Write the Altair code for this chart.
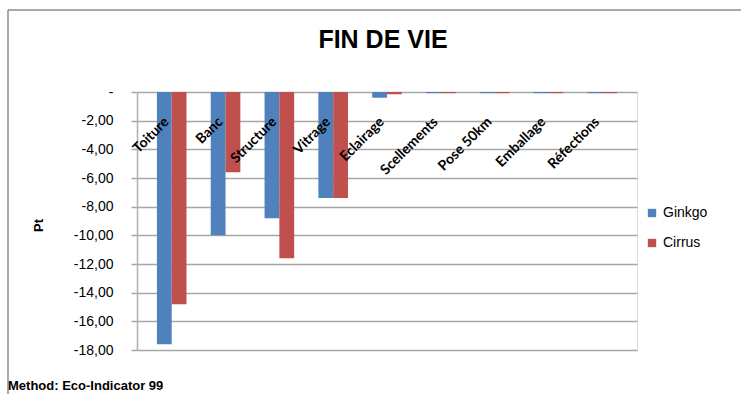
import altair as alt
import pandas as pd

categories = ["Toiture", "Banc", "Structure", "Vitrage", "Eclairage",
              "Scellements", "Pose 50km", "Emballage", "Réfections"]
ginkgo = [-17.6, -10.0, -8.8, -7.4, -0.4, -0.08, -0.08, -0.08, -0.08]
cirrus = [-14.8, -5.6, -11.6, -7.4, -0.15, -0.08, -0.08, -0.08, -0.08]
series = ["Ginkgo", "Cirrus"]
colors = ["#4F81BD", "#C0504D"]
y_ticks = [0, -2, -4, -6, -8, -10, -12, -14, -16, -18]

rows = []
for i, c in enumerate(categories):
    rows.append({"cat": c, "serie": "Ginkgo", "val": ginkgo[i]})
    rows.append({"cat": c, "serie": "Cirrus", "val": cirrus[i]})
df = pd.DataFrame(rows)
labels_df = pd.DataFrame({"cat": categories})

xscale = alt.Scale(domain=categories, paddingInner=0.45, paddingOuter=0.37)

bars = alt.Chart(df).mark_bar().encode(
    x=alt.X("cat:N", scale=xscale, axis=None, sort=categories),
    xOffset=alt.XOffset("serie:N", sort=series, scale=alt.Scale(domain=series)),
    y=alt.Y("val:Q", scale=alt.Scale(domain=[-18, 0], nice=False),
            axis=alt.Axis(values=y_ticks, title="Pt",
                          labelExpr="datum.value == 0 ? '-' : '-' + replace(format(abs(datum.value), '.2f'), '.', ',')",
                          titleAngle=-90, titleX=-92, titleY=133,
                          titleFont="Liberation Sans", titleFontSize=13, titleFontWeight="bold",
                          labelFont="Liberation Sans", labelFontSize=14, labelColor="#000000",
                          labelPadding=18, tickSize=6, tickColor="#a6a6a6", tickWidth=1.5,
                          domainColor="#b0b0b0", domainWidth=1.5,
                          grid=True, gridColor="#a6a6a6", gridWidth=1.5)),
    color=alt.Color("serie:N", scale=alt.Scale(domain=series, range=colors),
                    sort=series,
                    legend=alt.Legend(title=None, orient="none", legendX=508, legendY=114,
                                      symbolType="square", symbolSize=70, symbolStrokeWidth=0,
                                      labelFont="Liberation Sans", labelFontSize=14,
                                      rowPadding=16, labelOffset=4)),
)

labels = alt.Chart(labels_df).mark_text(
    angle=315, align="right", baseline="middle", font="Lato", fontWeight="bold",
    fontSize=14, dx=-7, color="#000000"
).encode(
    x=alt.X("cat:N", scale=xscale, sort=categories),
    y=alt.value(23),
    text="cat:N",
)

footer = alt.Chart(pd.DataFrame({"t": ["Method: Eco-Indicator 99"]})).mark_text(
    align="left", baseline="middle", font="Liberation Sans", fontWeight="bold",
    fontSize=13, color="#000000"
).encode(x=alt.value(-129), y=alt.value(294), text="t:N")

title = alt.Chart(pd.DataFrame({"t": ["FIN DE VIE"]})).mark_text(
    align="center", baseline="middle", font="Liberation Sans", fontWeight="bold",
    fontSize=25, color="#000000"
).encode(x=alt.value(246), y=alt.value(-52), text="t:N")

border_top = alt.Chart(pd.DataFrame({"a": [0]})).mark_rule(color="#8c8c8c", strokeWidth=1.5).encode(
    x=alt.value(-129), x2=alt.value(620), y=alt.value(-82))
border_left = alt.Chart(pd.DataFrame({"a": [0]})).mark_rule(color="#8c8c8c", strokeWidth=1.5).encode(
    x=alt.value(-129), y=alt.value(-82), y2=alt.value(310))

chart = alt.layer(border_top, border_left, bars, labels, footer, title).properties(
    width=500, height=258,
    padding={"left": 137, "top": 92, "right": 104, "bottom": 44},
    autosize=alt.AutoSizeParams(type="none"),
).configure_view(stroke=None).configure(background="white")

chart.save("out.html", embed_options={"renderer": "svg", "actions": False})
